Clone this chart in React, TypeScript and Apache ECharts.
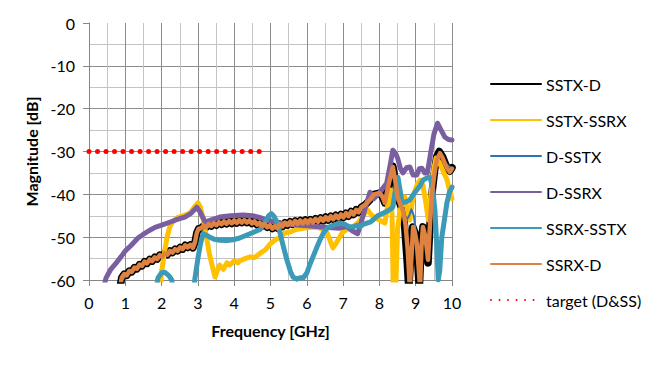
import React, { useEffect, useRef } from "react";
import * as echarts from "echarts";

const seriesNames = ["SSTX-D", "SSTX-SSRX", "D-SSTX", "D-SSRX", "SSRX-SSTX", "SSRX-D", "target (D&SS)"];

// shared low-frequency part of SSTX-D / SSRX-D (the two traces overlap there)
const dLowRipple: [number, number][] = [
  [0.85, -62], [0.9, -59.5], [0.97, -58.6], [1.04, -58.9], [1.11, -57.9], [1.18, -58.1], [1.25, -57.1], [1.32, -57.4],
  [1.39, -56.4], [1.46, -56.7], [1.53, -55.7], [1.6, -56.1], [1.67, -55.2], [1.74, -55.6], [1.81, -54.7], [1.88, -55.1],
  [1.95, -54.2], [2.02, -54.6], [2.09, -53.7], [2.16, -54.1], [2.23, -53.2], [2.3, -53.6], [2.37, -52.8], [2.44, -53.2],
  [2.51, -52.4], [2.58, -52.8], [2.65, -51.9], [2.72, -52.4], [2.79, -51.8], [2.86, -52.5], [2.92, -51.2], [2.97, -49],
  [3.02, -48], [3.09, -47.9], [3.16, -47.3], [3.23, -47.7], [3.3, -46.9], [3.37, -47.4], [3.44, -46.7], [3.51, -47.2],
  [3.58, -46.5], [3.65, -47], [3.72, -46.3], [3.79, -46.9], [3.86, -46.2], [3.93, -46.8], [4.0, -46.1], [4.07, -46.7],
  [4.14, -46], [4.21, -46.6], [4.28, -46], [4.35, -46.6], [4.42, -46.1], [4.49, -46.8], [4.56, -46.3], [4.63, -47.1],
  [4.7, -46.6], [4.77, -47.4], [4.84, -46.9], [4.91, -47.7], [4.98, -47.2], [5.05, -48], [5.12, -47.4], [5.19, -47.9],
  [5.26, -47], [5.33, -47.5], [5.4, -46.6], [5.47, -47.2], [5.54, -46.4], [5.61, -47], [5.68, -46.2], [5.75, -46.9],
  [5.82, -46.1], [5.89, -46.8], [5.96, -46], [6.03, -46.7], [6.1, -45.9], [6.17, -46.6], [6.24, -45.7], [6.31, -46.4],
  [6.38, -45.5], [6.45, -46.2], [6.52, -45.3], [6.59, -46], [6.66, -45.1], [6.73, -45.8], [6.8, -44.9], [6.87, -45.6],
  [6.94, -44.7], [7.01, -45.4], [7.08, -44.4], [7.15, -45.1], [7.22, -44], [7.29, -44.7], [7.36, -43.6], [7.43, -44.2],
  [7.5, -43],
];

const sstxDTail: [number, number][] = [
  [7.6, -42.5], [7.74, -41.3], [7.85, -40], [8.0, -39.7], [8.08, -40.5], [8.15, -42], [8.22, -39], [8.3, -36], [8.37, -33.4],
  [8.44, -37], [8.5, -40.6], [8.58, -42.5], [8.65, -43.7], [8.7, -48], [8.76, -55], [8.81, -62], [8.86, -55], [8.92, -47.6],
  [8.98, -49], [9.03, -52], [9.07, -58], [9.1, -62], [9.15, -52], [9.2, -47.6], [9.27, -50], [9.34, -56], [9.4, -46],
  [9.45, -39.7], [9.52, -34.5], [9.58, -31.2], [9.65, -30], [9.74, -31.2], [9.8, -32.5], [9.87, -34], [9.94, -34.6], [10, -33.8],
];

const ssrxDTail: [number, number][] = [
  [7.6, -42.5], [7.74, -41.3], [7.85, -40], [8.0, -39.7], [8.08, -40.5], [8.15, -42], [8.22, -39], [8.3, -36], [8.37, -33.6],
  [8.44, -37], [8.5, -40.6], [8.58, -42.5], [8.65, -43.7], [8.72, -47], [8.78, -53], [8.84, -62], [8.88, -55], [8.93, -47.6],
  [8.98, -49], [9.03, -51.4], [9.08, -57], [9.12, -62], [9.16, -52], [9.2, -47.6], [9.27, -50], [9.34, -55.3], [9.4, -46],
  [9.45, -39.7], [9.52, -35], [9.58, -32], [9.67, -30.4], [9.74, -31.5], [9.8, -32.7], [9.87, -34], [9.94, -34.8], [10, -34],
];

const sstxSsrx: [number, number][] = [
  [1.97, -62], [2.0, -58], [2.09, -53], [2.15, -50], [2.23, -47.5], [2.3, -46.5], [2.42, -45.5], [2.6, -45], [2.78, -44.4],
  [2.9, -43], [3.0, -42], [3.07, -43], [3.15, -46], [3.25, -50.7], [3.32, -54], [3.39, -56.5], [3.47, -59.3], [3.55, -57.5],
  [3.6, -56.5], [3.7, -57.5], [3.8, -56], [3.88, -56.5], [4.0, -55.5], [4.1, -56], [4.16, -55.5], [4.3, -55], [4.44, -54.6],
  [4.55, -54.8], [4.71, -53.8], [4.85, -53], [4.99, -51.6], [5.1, -50.8], [5.26, -50], [5.4, -49], [5.54, -48.8], [5.7, -48.2],
  [5.9, -47.9], [6.1, -47.7], [6.28, -47.6], [6.45, -48.2], [6.56, -49], [6.65, -51], [6.72, -52.5], [6.8, -51.5], [6.86, -50.7],
  [6.97, -49], [7.1, -48.2], [7.27, -47.6], [7.4, -46.7], [7.47, -46], [7.56, -45], [7.66, -43.5], [7.8, -45], [7.9, -45.5],
  [8.0, -46], [8.15, -46.7], [8.22, -43], [8.3, -39], [8.35, -45], [8.38, -62], [8.45, -62], [8.5, -48], [8.57, -43.7],
  [8.7, -40.6], [8.78, -44], [8.84, -46], [8.9, -42], [8.96, -39.7], [9.05, -37.5], [9.12, -36.7], [9.2, -38], [9.28, -42],
  [9.35, -46], [9.42, -40], [9.5, -34], [9.56, -31.5], [9.65, -32.5], [9.75, -34.5], [9.86, -36.5], [9.93, -39], [10, -41],
];

const dSstx: [number, number][] = [
  [0.9, -60], [1.35, -56.8], [1.82, -55], [2.3, -53.3], [2.75, -52], [2.93, -51], [3.0, -48.5], [3.4, -47.2], [3.88, -46.7],
  [4.35, -46.4], [4.9, -47.6], [5.18, -47.9], [5.62, -46.7], [6.1, -46.5], [6.55, -46], [7.0, -45.3], [7.47, -43.5],
  [7.74, -41.3], [8.0, -39.7], [8.15, -42], [8.3, -36], [8.37, -33.6], [8.5, -40.6], [8.65, -43.7], [8.75, -46], [8.82, -45],
  [8.88, -43.5], [8.95, -45], [9.03, -51], [9.1, -58], [9.2, -47.6], [9.34, -55], [9.45, -39.7], [9.58, -32], [9.67, -30.4],
  [9.8, -32.7], [10, -34],
];

const dSsrx: [number, number][] = [
  [0.4, -62], [0.47, -59.5], [0.6, -57.5], [0.75, -56], [0.88, -54.6], [1.0, -53.2], [1.15, -52], [1.35, -50.2], [1.5, -49.3],
  [1.65, -48.5], [1.82, -47.7], [2.0, -47.2], [2.26, -46.4], [2.45, -45.8], [2.64, -45.3], [2.8, -44.5], [2.97, -43], [3.05, -44],
  [3.2, -46.5], [3.35, -46], [3.6, -45.3], [3.9, -45], [4.24, -44.8], [4.5, -45], [4.7, -45.4], [4.9, -46], [5.1, -46.4],
  [5.26, -46.7], [5.5, -47], [5.8, -47.2], [6.1, -47.4], [6.4, -47.6], [6.7, -47.8], [6.9, -47.9], [7.1, -47.5], [7.25, -48.5],
  [7.4, -49.2], [7.5, -46.5], [7.6, -43.5], [7.74, -39.5], [7.85, -41], [8.0, -39.7], [8.1, -38.5], [8.2, -37.4], [8.3, -33],
  [8.37, -29.7], [8.45, -30.5], [8.5, -31.5], [8.58, -34], [8.65, -35], [8.75, -33.8], [8.84, -33.6], [8.93, -35.5], [9.03, -35.5],
  [9.1, -34], [9.17, -33.9], [9.25, -35], [9.32, -35], [9.4, -31], [9.5, -26], [9.6, -23.4], [9.7, -25], [9.8, -26.6],
  [9.9, -27.2], [10, -27.3],
];

const ssrxSstx: [number, number][] = [
  [1.85, -62], [1.9, -59.5], [2.0, -58.3], [2.09, -58.2], [2.2, -59], [2.28, -60], [2.32, -63], [2.88, -63], [2.92, -59.5],
  [3.0, -55], [3.06, -52], [3.14, -49.2], [3.22, -49.5], [3.33, -50], [3.45, -50.5], [3.6, -50.7], [3.8, -50.8], [3.97, -50.6],
  [4.15, -50.2], [4.35, -49.5], [4.55, -48.8], [4.71, -48.2], [4.85, -46.5], [4.95, -45], [5.02, -44.5], [5.1, -45.2],
  [5.18, -46.5], [5.25, -48.5], [5.31, -50.7], [5.38, -53], [5.45, -55.3], [5.55, -58], [5.62, -59.3], [5.72, -59.8],
  [5.81, -59.5], [5.9, -59.5], [6.0, -58.4], [6.08, -56.5], [6.17, -54.6], [6.27, -52.5], [6.36, -50.7], [6.46, -49],
  [6.56, -47.9], [6.7, -47.3], [6.91, -46.7], [7.05, -47], [7.15, -47.5], [7.27, -47.6], [7.4, -47.2], [7.47, -47.6],
  [7.55, -47], [7.66, -46.7], [7.75, -46.5], [7.82, -46], [7.95, -45], [8.1, -44.4], [8.2, -44], [8.3, -43.5], [8.37, -43],
  [8.44, -39], [8.51, -36], [8.57, -39], [8.62, -42], [8.72, -41.8], [8.84, -41.3], [8.94, -40], [9.03, -39], [9.12, -38],
  [9.2, -36.7], [9.3, -36.2], [9.39, -36], [9.46, -38], [9.53, -43.7], [9.58, -52], [9.62, -60], [9.66, -58], [9.72, -50],
  [9.79, -46], [9.86, -42], [9.93, -39.5], [10, -38.3],
];

const target: [number, number][] = [
  [0, -30], [4.85, -30],
];

const sstxD: [number, number][] = [...dLowRipple, ...sstxDTail];
const ssrxD: [number, number][] = [...dLowRipple, ...ssrxDTail];

const xTicks = { min: 0, max: 10, interval: 1 };
const yTicks = { min: -60, max: 0, interval: 10 };

const FONT = "Lato";

export default function App() {
  const ref = useRef<HTMLDivElement>(null);
  useEffect(() => {
    if (!ref.current) return;
    const chart = echarts.init(ref.current, undefined, { renderer: "svg" });
    const mk = (name: string, data: [number, number][], color: string, width: number, z: number) => ({
      name,
      type: "line",
      data,
      symbol: "none",
      showSymbol: false,
      z,
      lineStyle: { color, width, join: "round", cap: "round" },
      itemStyle: { color },
      clip: true,
    });
    chart.setOption({
      animation: false,
      backgroundColor: "#ffffff",
      textStyle: { fontFamily: FONT },
      grid: { left: 89, right: 213, top: 23, bottom: 110 },
      legend: {
        orient: "vertical",
        left: 490,
        top: 76,
        padding: 0,
        itemWidth: 50,
        itemHeight: 14,
        itemGap: 20,
        itemStyle: { opacity: 0 },
        textStyle: { fontFamily: FONT, fontSize: 16, color: "#000" },
        data: seriesNames,
      },
      xAxis: {
        type: "value",
        min: xTicks.min,
        max: xTicks.max,
        interval: xTicks.interval,
        name: "Frequency [GHz]",
        nameLocation: "middle",
        nameGap: 42,
        nameTextStyle: { fontFamily: FONT, fontSize: 16, fontWeight: "bold", color: "#000" },
        axisLine: { show: true, onZero: false, lineStyle: { color: "#868686", width: 1 } },
        axisTick: { show: true, length: 6, lineStyle: { color: "#868686" } },
        axisLabel: { fontFamily: FONT, fontSize: 16, color: "#000", margin: 14 },
        splitLine: { show: true, lineStyle: { color: "#8c8c8c", width: 1 } },
        minorTick: { show: false, splitNumber: 2 },
        minorSplitLine: { show: true, lineStyle: { color: "#c4c4c4", width: 1 } },
      },
      yAxis: {
        type: "value",
        min: yTicks.min,
        max: yTicks.max,
        interval: yTicks.interval,
        name: "Magnitude [dB]",
        nameLocation: "middle",
        nameGap: 43,
        nameTextStyle: { fontFamily: FONT, fontSize: 16, fontWeight: "bold", color: "#000" },
        axisLine: { show: true, lineStyle: { color: "#868686", width: 1 } },
        axisTick: { show: true, length: 6, lineStyle: { color: "#868686" } },
        axisLabel: { fontFamily: FONT, fontSize: 16, color: "#000", margin: 14 },
        splitLine: { show: true, showMaxLine: false, lineStyle: { color: "#8c8c8c", width: 1 } },
        minorTick: { show: false, splitNumber: 2 },
        minorSplitLine: { show: true, lineStyle: { color: "#c4c4c4", width: 1 } },
      },
      series: [
        mk(seriesNames[0], sstxD, "#000000", 7.5, 2),
        mk(seriesNames[1], sstxSsrx, "#FFC000", 5, 3),
        mk(seriesNames[2], dSstx, "#2E75B6", 2, 4),
        mk(seriesNames[3], dSsrx, "#7A5FA0", 5, 5),
        mk(seriesNames[4], ssrxSstx, "#3B9AB8", 5, 6),
        mk(seriesNames[5], ssrxD, "#DD8240", 4.5, 7),
        {
          name: seriesNames[6],
          type: "line",
          data: target,
          symbol: "none",
          showSymbol: false,
          z: 8,
          lineStyle: { color: "#FF0000", width: 5, type: [0.01, 8.5], cap: "round" },
          itemStyle: { color: "#FF0000" },
        },
      ],
    });
    return () => chart.dispose();
  }, []);
  return (
    <div
      ref={ref}
      style={{ position: "absolute", left: 0, top: 0, width: 665, height: 390, background: "#fff" }}
    />
  );
}
